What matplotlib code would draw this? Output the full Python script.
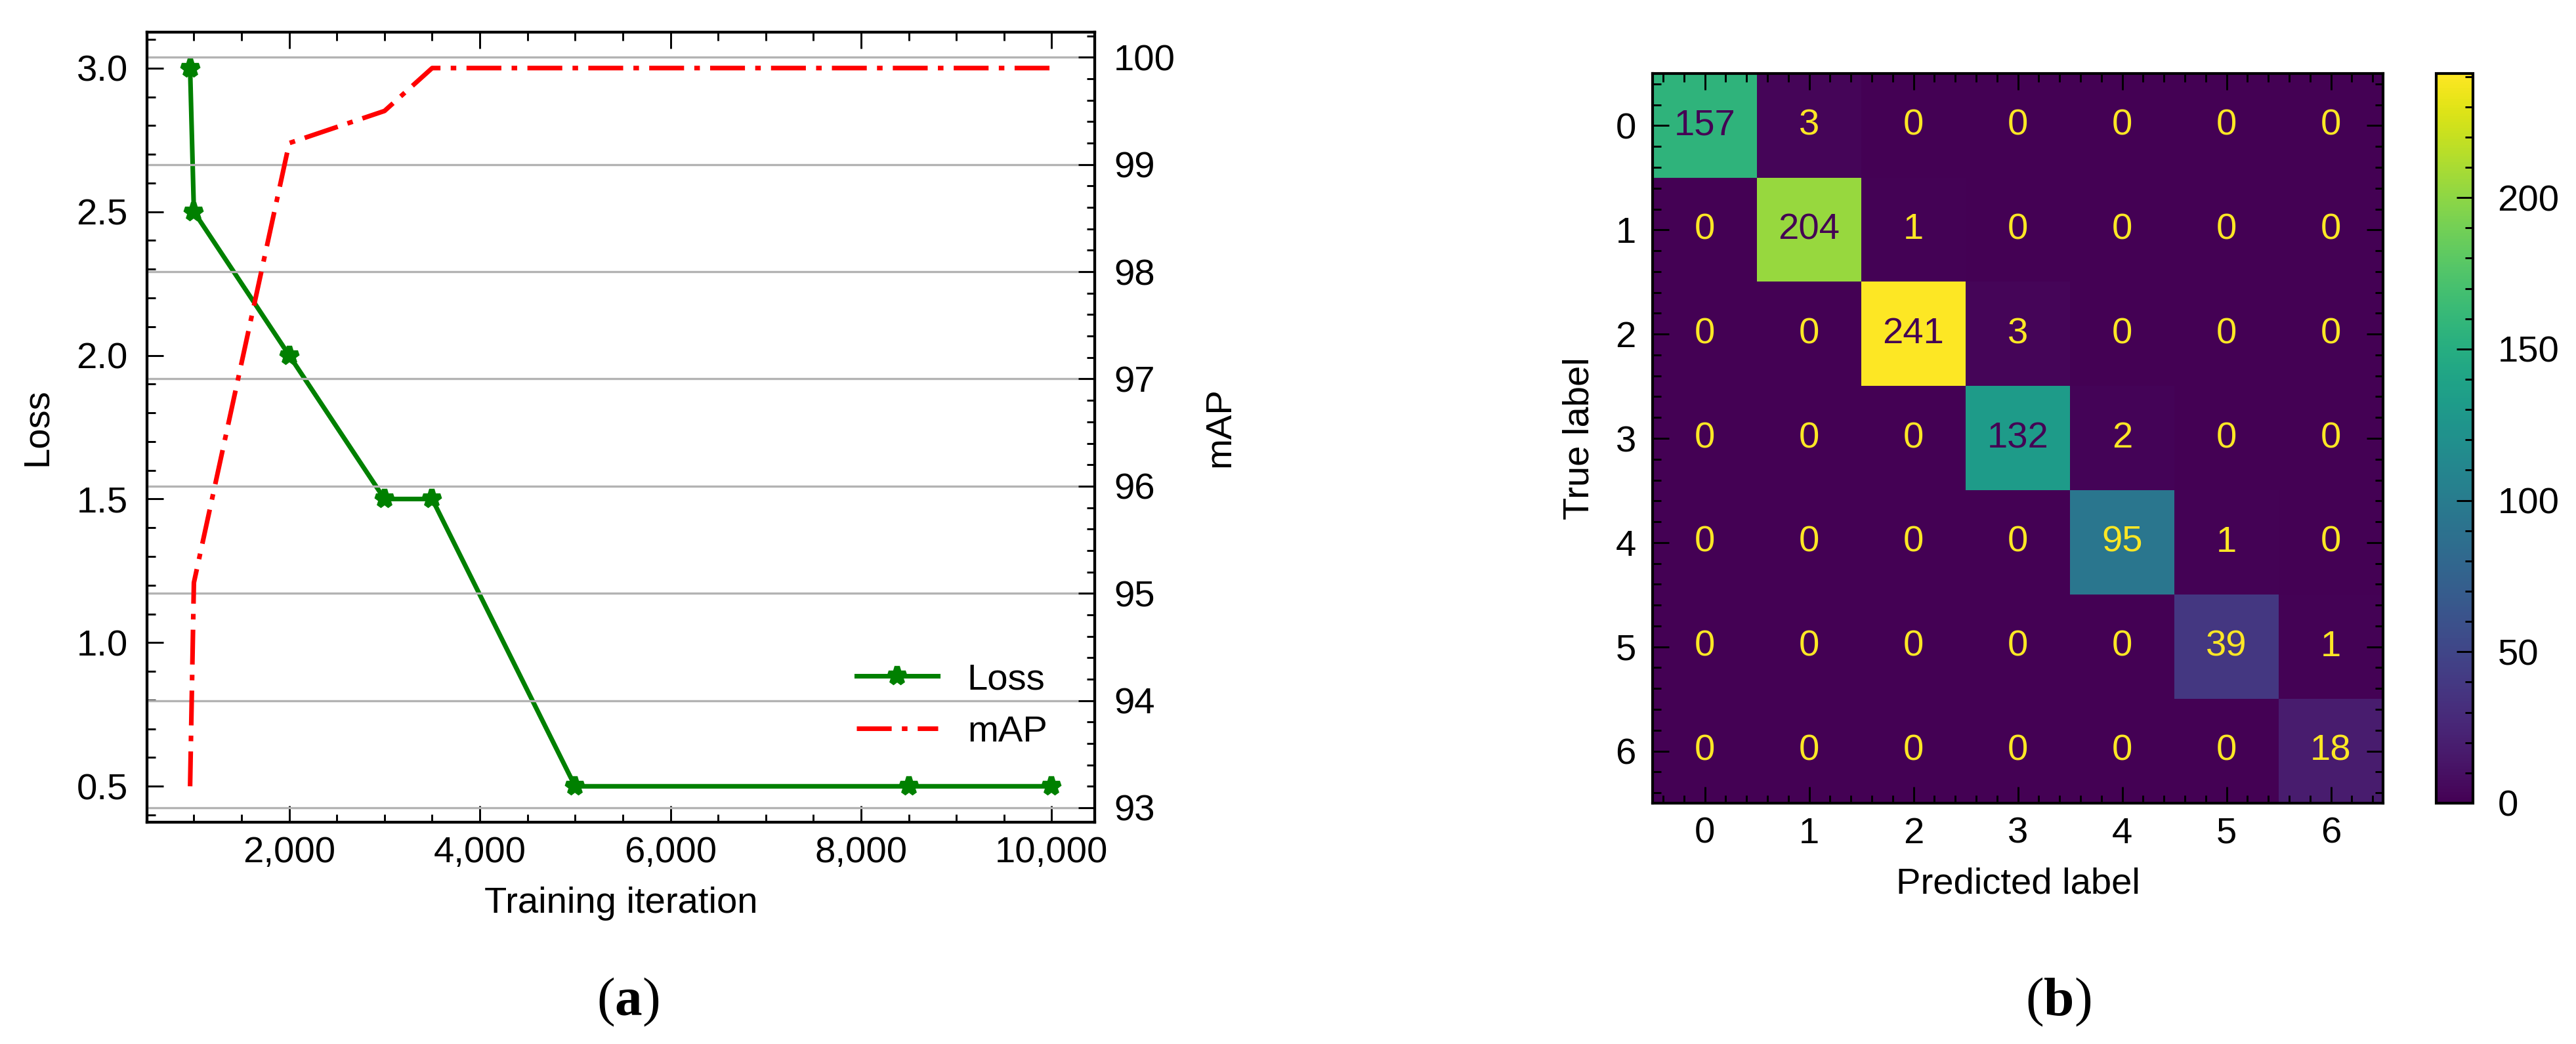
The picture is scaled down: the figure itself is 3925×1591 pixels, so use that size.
import numpy as np
import matplotlib
matplotlib.use("Agg")
import matplotlib.pyplot as plt
from matplotlib.ticker import MultipleLocator, AutoMinorLocator, FuncFormatter

plt.rcParams['font.family'] = ['Liberation Sans', 'DejaVu Sans']
plt.rcParams['font.size'] = 13.5
plt.rcParams['mathtext.fontset'] = 'custom'
plt.rcParams['mathtext.rm'] = 'Liberation Serif'
plt.rcParams['mathtext.bf'] = 'Liberation Serif:bold'
plt.rcParams['axes.linewidth'] = 1.0

# (a) training curves
iters_loss = [960, 1000, 2000, 3000, 3500, 5000, 8500, 10000]
loss = [3.0, 2.5, 2.0, 1.5, 1.5, 0.5, 0.5, 0.5]
iters_map = [960, 1000, 2000, 3000, 3500, 10000]
mAP = [93.2, 95.1, 99.2, 99.5, 99.9, 99.9]

# (b) confusion matrix
classes = ['0', '1', '2', '3', '4', '5', '6']
cm = np.array([
    [157, 3, 0, 0, 0, 0, 0],
    [0, 204, 1, 0, 0, 0, 0],
    [0, 0, 241, 3, 0, 0, 0],
    [0, 0, 0, 132, 2, 0, 0],
    [0, 0, 0, 0, 95, 1, 0],
    [0, 0, 0, 0, 0, 39, 1],
    [0, 0, 0, 0, 0, 0, 18],
])

W, H = 3925, 1591
fig = plt.figure(figsize=(W / 300, H / 300), dpi=300)

def tick_style(ax):
    ax.tick_params(which='both', direction='in', width=0.7)
    ax.tick_params(which='major', length=6)
    ax.tick_params(which='minor', length=3)

# ---- left panel ----
ax1 = fig.add_axes([224 / W, 1 - 1253 / H, (1668 - 224) / W, (1253 - 49) / H])
ax2 = ax1.twinx()

l1, = ax1.plot(iters_loss, loss, color='green', lw=1.7, marker='*', ms=6.5,
               mew=2.0, label='Loss')
l2, = ax2.plot(iters_map, mAP, color='red', lw=1.7, ls=(0, (7.5, 2.2, 1.2, 2.2)),
               label='mAP')

ax1.xaxis.set_major_locator(MultipleLocator(2000))
ax1.xaxis.set_minor_locator(MultipleLocator(500))
ax1.xaxis.set_major_formatter(FuncFormatter(lambda v, p: f'{v:,.0f}'))
ax1.yaxis.set_major_locator(MultipleLocator(0.5))
ax1.yaxis.set_minor_locator(MultipleLocator(0.1))
ax2.yaxis.set_major_locator(MultipleLocator(1))
ax2.yaxis.set_minor_locator(MultipleLocator(0.2))

tick_style(ax1)
tick_style(ax2)
ax1.tick_params(axis='x', which='both', top=True, bottom=True, pad=5)
ax1.tick_params(axis='y', which='both', left=True, right=False, pad=7)
ax2.tick_params(axis='y', which='both', left=False, right=True, pad=7)

ax2.yaxis.grid(True, color='#b3b3b3', lw=0.8)

ax1.set_xlabel('Training iteration', labelpad=6)
ax1.set_ylabel('Loss', labelpad=8)
ax2.set_ylabel('mAP', labelpad=10)

ax2.legend([l1, l2], ['Loss', 'mAP'], loc='lower right', frameon=False,
           bbox_to_anchor=(0.985, 0.05), handlelength=2.2)

# ---- right panel ----
ax3 = fig.add_axes([2518 / W, 1 - 1224 / H, (3631 - 2518) / W, (1224 - 112) / H])
cax = fig.add_axes([3712 / W, 1 - 1224 / H, (3768 - 3712) / W, (1224 - 112) / H])

im = ax3.imshow(cm, cmap='viridis', vmin=0, vmax=cm.max(), aspect='auto',
                interpolation='nearest')
cmap = plt.get_cmap('viridis')
thresh = (cm.max() + cm.min()) / 2
for i in range(cm.shape[0]):
    for j in range(cm.shape[1]):
        c = cmap(0.0) if cm[i, j] > thresh else cmap(1.0)
        ax3.text(j, i, str(cm[i, j]), ha='center', va='center', color=c)

ax3.set_xticks(range(len(classes)))
ax3.set_xticklabels(classes)
ax3.set_yticks(range(len(classes)))
ax3.set_yticklabels(classes)
ax3.xaxis.set_minor_locator(AutoMinorLocator(5))
ax3.yaxis.set_minor_locator(AutoMinorLocator(5))
tick_style(ax3)
ax3.tick_params(which='both', top=True, right=True)
ax3.tick_params(axis='x', pad=5)
ax3.tick_params(axis='y', pad=6)
ax3.set_xlabel('Predicted label', labelpad=6)
ax3.set_ylabel('True label', labelpad=7)

cb = fig.colorbar(im, cax=cax)
cb.set_ticks([0, 50, 100, 150, 200])
cb.ax.yaxis.set_minor_locator(MultipleLocator(10))
tick_style(cb.ax)
cb.ax.tick_params(which='both', left=False, right=True, pad=9)
cb.outline.set_linewidth(1.0)

fig.text(957 / W, 1 - 1527 / H, r'$(\mathbf{a})$', ha='center', va='center', fontsize=20)
fig.text(3136 / W, 1 - 1527 / H, r'$(\mathbf{b})$', ha='center', va='center', fontsize=20)

fig.savefig('out.png', dpi=300, facecolor='white')
